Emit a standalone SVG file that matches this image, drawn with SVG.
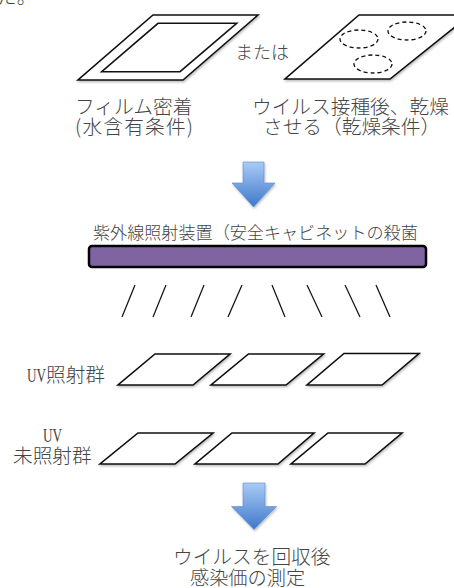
<svg xmlns="http://www.w3.org/2000/svg" width="454" height="588" viewBox="0 0 454 588">
  <defs>
    <linearGradient id="blue" x1="0" y1="0" x2="0" y2="1">
      <stop offset="0" stop-color="#a9cbf7"/>
      <stop offset="1" stop-color="#3f78c9"/>
    </linearGradient>
    <filter id="sh" x="-10%" y="-10%" width="130%" height="140%">
      <feDropShadow dx="0.8" dy="1.5" stdDeviation="1" flood-color="#000" flood-opacity="0.28"/>
    </filter>
  </defs>
  <style>
    text { font-family: "Noto Sans CJK JP", "Noto Sans", sans-serif; font-weight: 300; fill: #444; }
    .t20 { font-size: 19.7px; }
    .t18 { font-size: 18px; }
    .t17 { font-size: 17.1px; }
    .uv { font-family: "Liberation Serif", serif; font-size: 19.5px; }
    .plate { fill: #fff; stroke: #111; stroke-width: 1.6; stroke-linejoin: miter; filter: url(#sh); }
    .spot { fill: none; stroke: #111; stroke-width: 1.3; stroke-dasharray: 4 3; }
    .ray { stroke: #111; stroke-width: 1.2; fill: none; }
    .arrow { fill: url(#blue); stroke: #5a8cd2; stroke-width: 0.6; filter: url(#sh); }
  </style>

  <text id="fragment" class="t20" x="-3" y="4">た。</text>

  <g id="film-plate">
    <path class="plate" d="M153,15 H258 L183,80 H78 Z"/>
    <path class="plate" style="filter:none" d="M158,23.3 H236.7 L180,71.7 H101.7 Z"/>
    <text class="t20" x="75" y="114">フィルム密着</text>
    <text class="t20" x="75" y="134" textLength="118" lengthAdjust="spacing">(水含有条件)</text>
  </g>

  <text id="or" class="t18" x="235" y="59">または</text>

  <g id="dry-plate">
    <path class="plate" d="M359,15 H470 L390,79 H285 Z"/>
    <ellipse class="spot" cx="359" cy="39" rx="19" ry="9"/>
    <ellipse class="spot" cx="407" cy="31" rx="19" ry="9"/>
    <ellipse class="spot" cx="373" cy="64" rx="19" ry="9"/>
    <text class="t20" x="252" y="114">ウイルス接種後、乾燥</text>
    <text class="t20" x="263" y="134">させる（乾燥条件）</text>
  </g>

  <g id="connectors">
    <path id="arrow1" class="arrow" d="M243,162 H264 V183 H275 L253.5,207 L232,183 H243 Z"/>
    <path id="arrow2" class="arrow" d="M243,483 H265 V506.5 H276.5 L254,529.5 L231.5,506.5 H243 Z"/>
  </g>

  <g id="uv-device">
    <text class="t17" x="93" y="239">紫外線照射装置（安全キャビネットの殺菌</text>
    <rect x="89" y="246" width="337" height="21" rx="3" fill="#8064a2" stroke="#000" stroke-width="2.5"/>
  </g>

  <g id="rays">
    <line class="ray" x1="135" y1="285" x2="122" y2="317"/>
    <line class="ray" x1="166" y1="285" x2="153" y2="317"/>
    <line class="ray" x1="204" y1="285" x2="191" y2="317"/>
    <line class="ray" x1="242" y1="285" x2="228" y2="317"/>
    <line class="ray" x1="272" y1="285" x2="285" y2="317"/>
    <line class="ray" x1="307" y1="285" x2="322" y2="317"/>
    <line class="ray" x1="345" y1="285" x2="360" y2="317"/>
    <line class="ray" x1="376" y1="285" x2="390" y2="317"/>
  </g>

  <g id="uv-group">
    <text class="t20" x="27" y="381.5"><tspan class="uv" textLength="19" lengthAdjust="spacingAndGlyphs">UV</tspan><tspan x="46">照射群</tspan></text>
    <path class="plate" d="M155,354 H230 L193,385 H118 Z"/>
    <path class="plate" d="M248.5,354 H323.5 L286,385 H211 Z"/>
    <path class="plate" d="M344,353.5 H419 L382,385 H307 Z"/>
  </g>

  <g id="control-group">
    <text class="uv" x="43" y="442" textLength="19" lengthAdjust="spacingAndGlyphs">UV</text>
    <text class="t20" x="13" y="463">未照射群</text>
    <path class="plate" d="M138,433 H213 L175,464 H100 Z"/>
    <path class="plate" d="M232,433 H314 L278,464 H195 Z"/>
    <path class="plate" d="M328,433 H402 L365,464 H291 Z"/>
  </g>

  <g id="result">
    <text class="t20" x="173" y="564">ウイルスを回収後</text>
    <text class="t20" x="190" y="585" style="font-size:19.2px">感染価の測定</text>
  </g>
</svg>
